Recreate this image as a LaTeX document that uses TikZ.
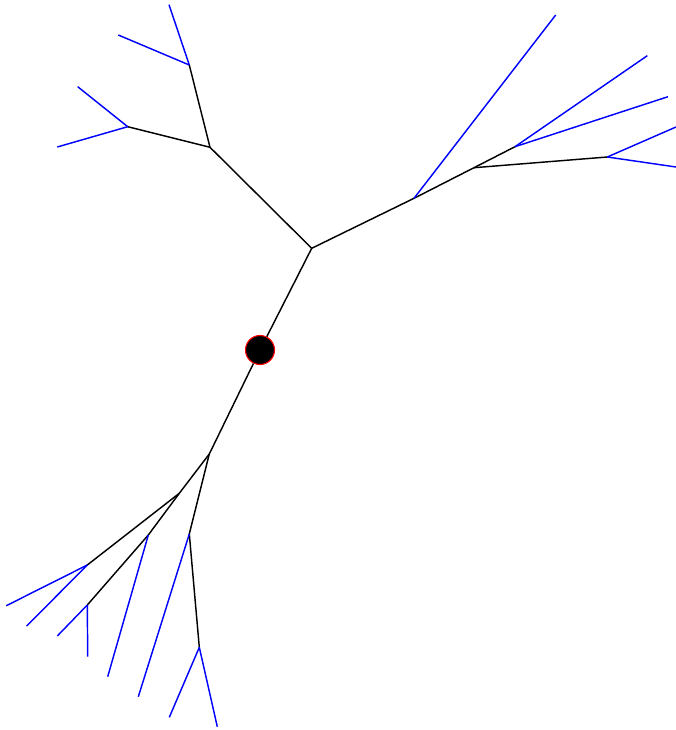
\documentclass[tikz,border=0pt]{standalone}
\begin{document}
\begin{tikzpicture}[x=1bp,y=-1bp,
  inner/.style={draw=black,line width=1.45pt},
  leaf/.style={draw=blue,line width=1.45pt},
  rootdot/.style={circle,fill=black,draw=red,line width=1.1pt,minimum size=29bp,inner sep=0pt}]
\useasboundingbox (0,0) rectangle (676,730);
% internal nodes
\node[rootdot] (R) at (260,350) {};
\coordinate (A) at (311.7,248.3);
\coordinate (B) at (209.3,454);
\coordinate (C) at (210,147.3);
\coordinate (D) at (414,198.3);
\coordinate (E) at (189.3,65);
\coordinate (F) at (127.7,126.7);
\coordinate (G) at (474,167.7);
\coordinate (H) at (515,146.7);
\coordinate (I) at (607.3,157);
\coordinate (J) at (179.3,493.3);
\coordinate (K) at (189.3,534);
\coordinate (L) at (87.3,565);
\coordinate (N) at (148.3,535);
\coordinate (M) at (87.3,605);
\coordinate (P) at (199.3,647.3);
% leaves
\coordinate (e1) at (169,4.7);
\coordinate (e2) at (118.3,35);
\coordinate (f1) at (77.7,86.7);
\coordinate (f2) at (57.3,147);
\coordinate (d1) at (555.7,15);
\coordinate (h1) at (647.3,55.7);
\coordinate (h2) at (668,96.7);
\coordinate (i1) at (676,127);
\coordinate (i2) at (676,167);
\coordinate (l1) at (6.3,605.7);
\coordinate (l2) at (26.7,626);
\coordinate (m1) at (57.3,636);
\coordinate (m2) at (87.7,656.7);
\coordinate (n1) at (107.7,676.7);
\coordinate (k1) at (138.3,696.7);
\coordinate (p1) at (169.3,717.3);
\coordinate (p2) at (217.3,726.7);
% inner edges
\draw[inner] (R) -- (A);
\draw[inner] (R) -- (B);
\draw[inner] (A) -- (C);
\draw[inner] (A) -- (D);
\draw[inner] (C) -- (E);
\draw[inner] (C) -- (F);
\draw[inner] (D) -- (G);
\draw[inner] (G) -- (H);
\draw[inner] (G) -- (I);
\draw[inner] (B) -- (J);
\draw[inner] (B) -- (K);
\draw[inner] (J) -- (L);
\draw[inner] (J) -- (N);
\draw[inner] (N) -- (M);
\draw[inner] (K) -- (P);
% leaf edges
\draw[leaf] (E) -- (e1);
\draw[leaf] (E) -- (e2);
\draw[leaf] (F) -- (f1);
\draw[leaf] (F) -- (f2);
\draw[leaf] (D) -- (d1);
\draw[leaf] (H) -- (h1);
\draw[leaf] (H) -- (h2);
\draw[leaf] (I) -- (i1);
\draw[leaf] (I) -- (i2);
\draw[leaf] (L) -- (l1);
\draw[leaf] (L) -- (l2);
\draw[leaf] (M) -- (m1);
\draw[leaf] (M) -- (m2);
\draw[leaf] (N) -- (n1);
\draw[leaf] (K) -- (k1);
\draw[leaf] (P) -- (p1);
\draw[leaf] (P) -- (p2);
\end{tikzpicture}
\end{document}
